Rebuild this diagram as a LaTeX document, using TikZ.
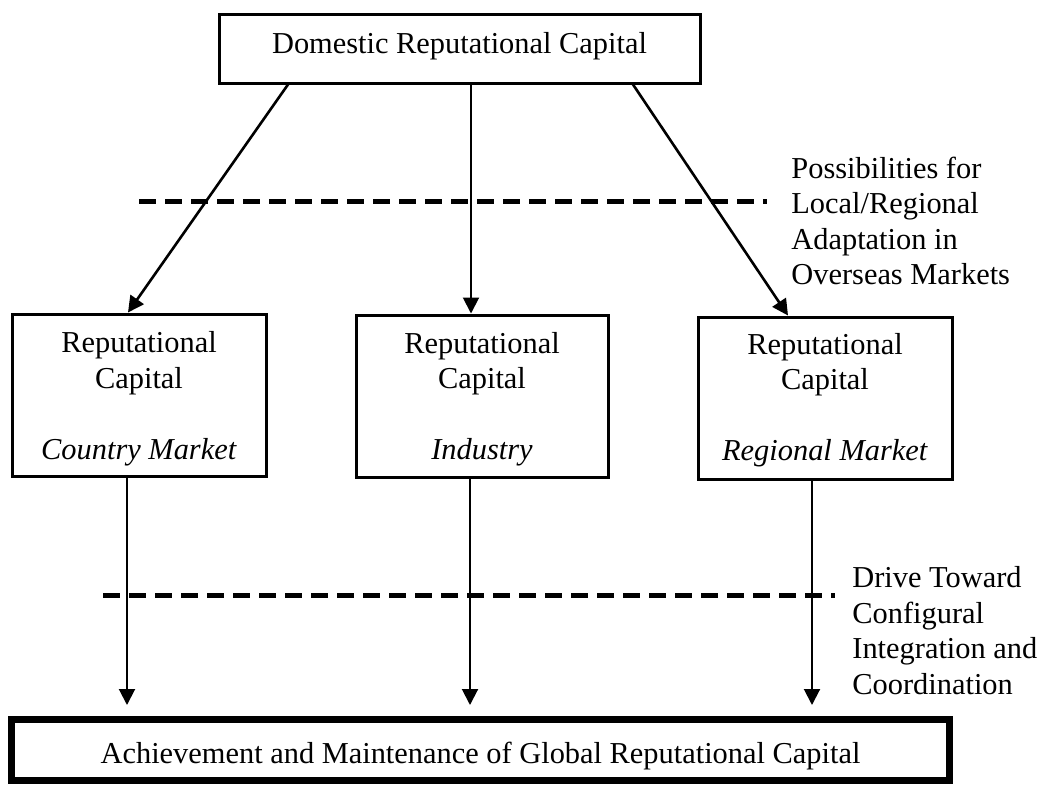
\documentclass[tikz,border=0pt]{standalone}
\usepackage{fontspec}
\setmainfont{Liberation Serif}
\usetikzlibrary{arrows.meta,calc}
\begin{document}
\begin{tikzpicture}[x=0.5pt,y=-0.5pt,
  every node/.style={font=\fontsize{15.2pt}{17.75pt}\selectfont},
  box/.style={draw,line width=1.5pt,inner sep=0pt},
  words/.style={anchor=north,inner sep=0pt,align=center},
  flow/.style={line width=1.3pt,-{Triangle[width=8pt,length=8pt]}},
  thinflow/.style={line width=1pt,-{Triangle[width=8pt,length=8pt]}},
  divider/.style={line width=2.5pt,dash pattern=on 8.5pt off 4.5pt},
  note/.style={anchor=north west,inner sep=0pt,align=left}]
\useasboundingbox (0,0) rectangle (1039,787);

% boxes
\node[box,minimum width=240.5pt,minimum height=34.5pt] (dom) at (459.5,48.5) {};
\node[box,minimum width=127pt,minimum height=81pt] (cm) at (139,395) {};
\node[box,minimum width=126pt,minimum height=81pt] (ind) at (482,396) {};
\node[box,minimum width=127pt,minimum height=81pt] (reg) at (825,398) {};
\node[box,line width=3.5pt,minimum width=469pt,minimum height=30.5pt] (glob) at (480.5,750) {};

% box texts
\node[words] (domt) at (459.5,31.7) {Domestic Reputational Capital};
\node[words] (cmt) at (139,331.2)
  {Reputational\\Capital\\[17.75pt]\textit{Country Market}};
\node[words] (indt) at (482,331.7)
  {Reputational\\Capital\\[17.75pt]\textit{Industry}};
\node[words] (regt) at (825,333)
  {Reputational\\Capital\\[17.75pt]\textit{Regional Market}};
\node[words] (globt) at (480.5,741.2)
  {Achievement and Maintenance of Global Reputational Capital};

% dividing lines and their notes
\coordinate (d1a) at (139,201);
\coordinate (d1b) at (767,201);
\coordinate (d2a) at (103,595);
\coordinate (d2b) at (835,595);
\draw[divider] (d1a) -- (d1b);
\draw[divider] (d2a) -- (d2b);
\node[note] (adapt) at (791,156.5)
  {Possibilities for\\Local/Regional\\Adaptation in\\Overseas Markets};
\node[note] (drive) at (852,566)
  {Drive Toward\\Configural\\Integration and\\Coordination};

% arrows from the domestic box
\draw[flow] ($(dom.south)+(-171.5,0)$) -- ($(cm.north)+(-11,0)$);
\coordinate (m1) at ($(dom.south)+(11.5,0)$);
\draw[thinflow] (m1) -- (m1 |- ind.north);
\draw[flow] ($(dom.south)+(173.5,0)$) -- ($(reg.north)+(-37,0)$);

% arrows into the global box
\coordinate (b1) at ($(cm.south)+(-12,0)$);
\coordinate (b2) at ($(ind.south)+(-12,0)$);
\coordinate (b3) at ($(reg.south)+(-13,0)$);
\draw[thinflow,shorten >=5.5pt] (b1) -- (b1 |- glob.north);
\draw[thinflow,shorten >=5.5pt] (b2) -- (b2 |- glob.north);
\draw[thinflow,shorten >=5.5pt] (b3) -- (b3 |- glob.north);
\end{tikzpicture}
\end{document}
